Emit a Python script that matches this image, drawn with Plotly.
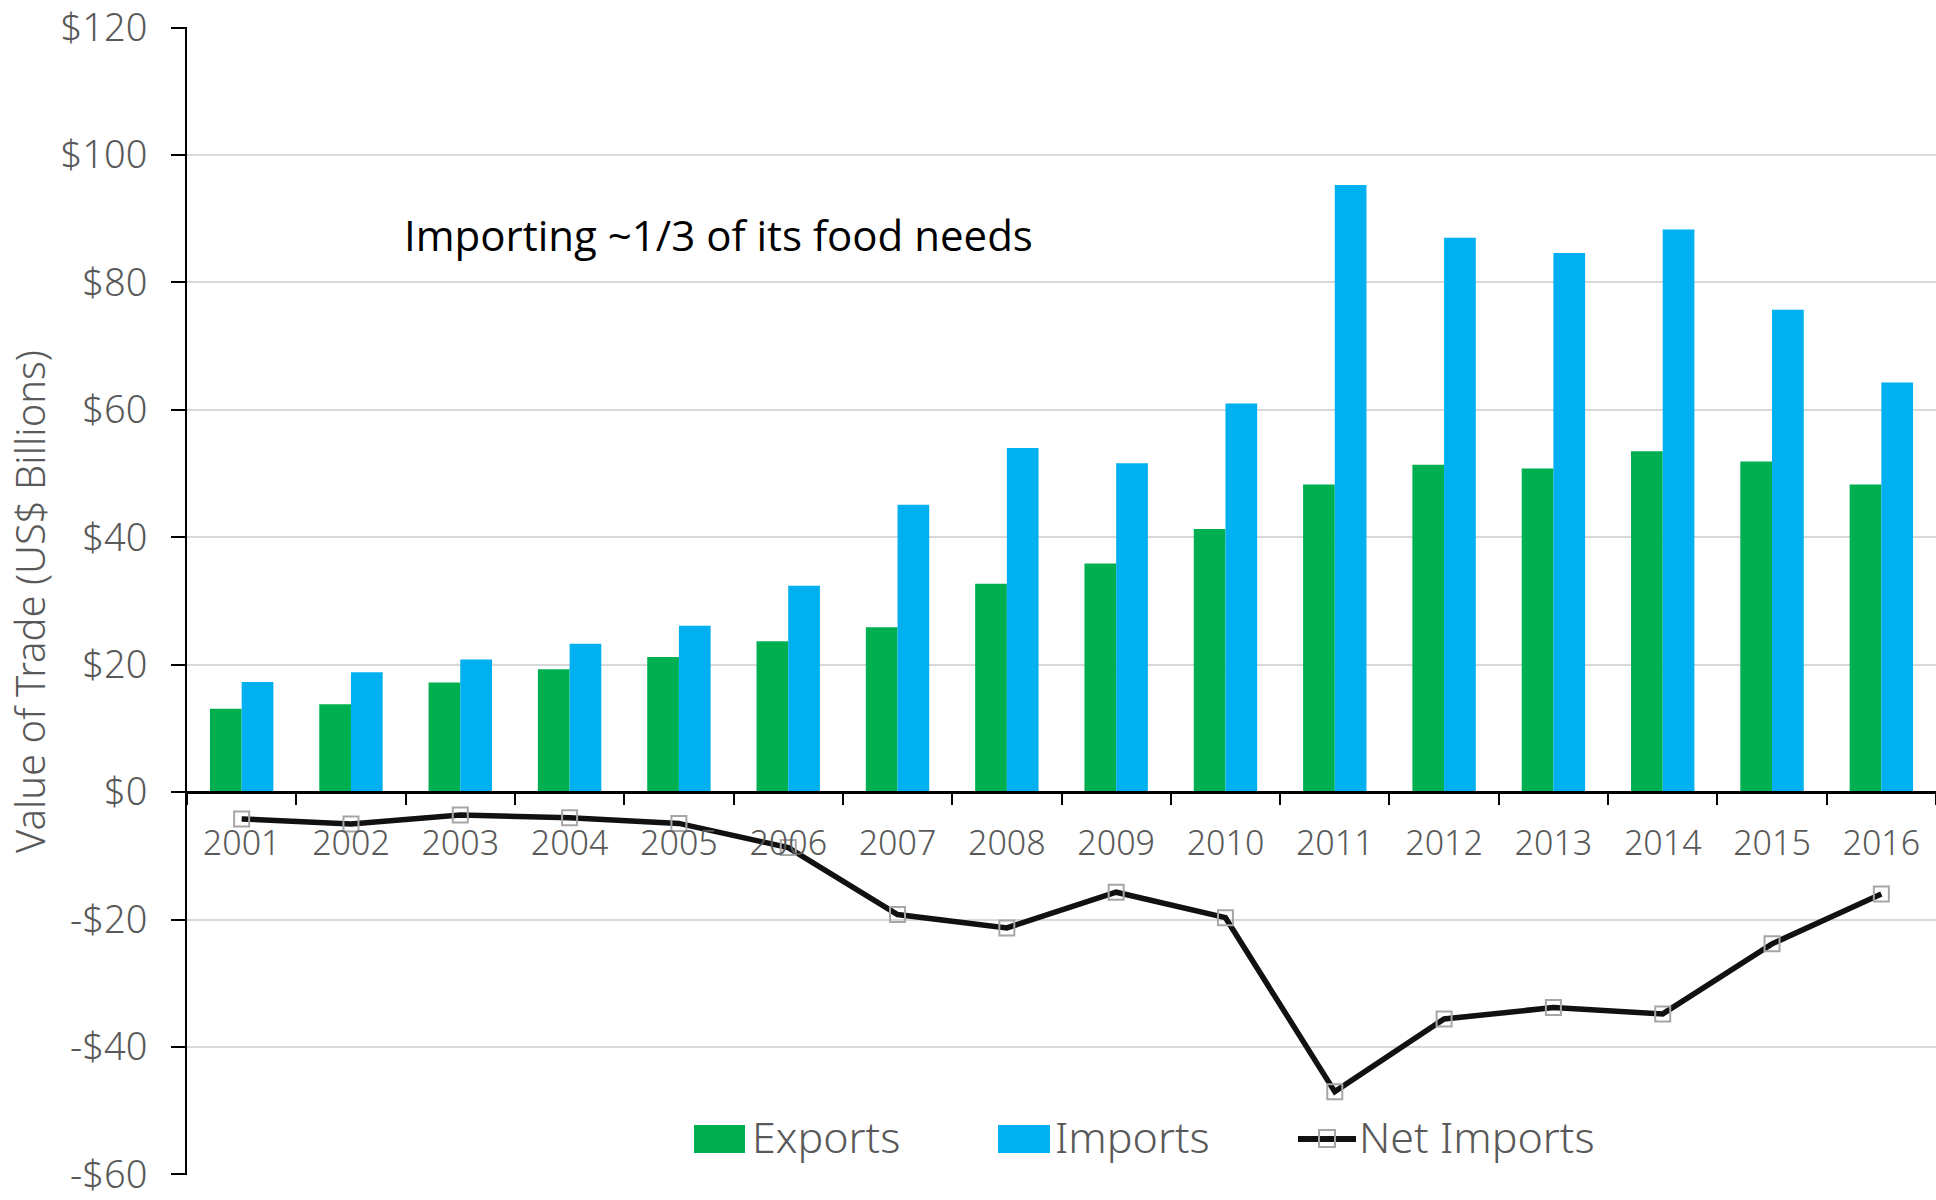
import plotly.graph_objects as go

years = ["2001", "2002", "2003", "2004", "2005", "2006", "2007", "2008",
         "2009", "2010", "2011", "2012", "2013", "2014", "2015", "2016"]
exports = [13.1, 13.8, 17.2, 19.3, 21.2, 23.7, 25.9, 32.7,
           35.9, 41.3, 48.3, 51.4, 50.8, 53.5, 51.9, 48.3]
imports = [17.3, 18.8, 20.8, 23.3, 26.1, 32.4, 45.1, 54.0,
           51.6, 61.0, 95.3, 87.0, 84.6, 88.3, 75.7, 64.3]
net_imports = [-4.2, -5.0, -3.6, -4.0, -4.9, -8.7, -19.2, -21.3,
               -15.7, -19.7, -47.0, -35.6, -33.8, -34.8, -23.8, -16.0]
y_ticks = [-60, -40, -20, 0, 20, 40, 60, 80, 100, 120]
y_tick_text = ["-$60", "-$40", "-$20", "$0", "$20", "$40", "$60", "$80", "$100", "$120"]

W, H = 1936, 1200
ML, MR, MT, MB = 187, 0, 27, 25
PW, PH = W - ML - MR, H - MT - MB

def px(x):
    return (x - ML) / PW

def py(y):
    return (H - MB - y) / PH

FONT = "Noto Sans, sans-serif"
GRAY = "#595959"
GREEN = "#00B050"
BLUE = "#00B0F0"

fig = go.Figure()
fig.add_trace(go.Bar(x=years, y=exports, name="Exports", marker_color=GREEN,
                     marker_line_width=0, showlegend=False))
fig.add_trace(go.Bar(x=years, y=imports, name="Imports", marker_color=BLUE,
                     marker_line_width=0, showlegend=False))
fig.add_trace(go.Scatter(x=years, y=net_imports, name="Net Imports", mode="lines+markers",
                         line=dict(color="#111111", width=5.5),
                         marker=dict(symbol="square", size=15, color="rgba(0,0,0,0)",
                                     line=dict(color="#a6a6a6", width=2)),
                         showlegend=False))

shapes = [
    dict(type="rect", xref="paper", yref="paper", x0=px(694), x1=px(745), y0=py(1153), y1=py(1125),
         fillcolor=GREEN, line_width=0),
    dict(type="rect", xref="paper", yref="paper", x0=px(998), x1=px(1050), y0=py(1153), y1=py(1125),
         fillcolor=BLUE, line_width=0),
    dict(type="line", xref="paper", yref="paper", x0=px(1298), x1=px(1356), y0=py(1139), y1=py(1139),
         line=dict(color="#111111", width=6)),
    dict(type="rect", xref="paper", yref="paper", x0=px(1319), x1=px(1335), y0=py(1147), y1=py(1130),
         fillcolor="rgba(0,0,0,0)", line=dict(color="#a6a6a6", width=2)),
]
legend_font = dict(family=FONT, size=43, color=GRAY, weight=300)
annotations = [
    dict(text="Exports", xref="paper", yref="paper", x=px(750), y=py(1136), xanchor="left",
         yanchor="middle", showarrow=False, font=legend_font),
    dict(text="Imports", xref="paper", yref="paper", x=px(1053), y=py(1136), xanchor="left",
         yanchor="middle", showarrow=False, font=legend_font),
    dict(text="Net Imports", xref="paper", yref="paper", x=px(1357), y=py(1136), xanchor="left",
         yanchor="middle", showarrow=False, font=legend_font),
    dict(text="Importing ~1/3 of its food needs", xref="paper", yref="paper", x=px(402), y=py(234),
         xanchor="left", yanchor="middle", showarrow=False,
         font=dict(family="Open Sans, sans-serif", size=42, color="#000000")),
    dict(text="Value of Trade (US$ Billions)", xref="paper", yref="paper", x=px(30), y=py(602),
         xanchor="center", yanchor="middle", textangle=-90, showarrow=False,
         font=dict(family=FONT, size=40, color=GRAY, weight=300)),
]

fig.update_layout(
    width=W, height=H,
    margin=dict(l=ML, r=MR, t=MT, b=MB, autoexpand=False),
    paper_bgcolor="white", plot_bgcolor="white",
    barmode="group", bargap=0.42, bargroupgap=0,
    shapes=shapes, annotations=annotations,
    showlegend=False,
    xaxis=dict(type="category", anchor="free", position=1/3, range=[-0.5, 15.5], autorange=False,
               showline=True, linecolor="black", linewidth=2.5,
               ticks="outside", tickson="boundaries", ticklen=11, tickwidth=2, tickcolor="black",
               showgrid=False, tickfont=dict(family=FONT, size=34, color=GRAY, weight=300),
               ticklabelstandoff=20, ticklabeloverflow="allow"),
    yaxis=dict(range=[-60.08, 120.08], autorange=False, tickvals=y_ticks, ticktext=y_tick_text,
               showline=True, linecolor="black", linewidth=2,
               ticks="outside", ticklen=14, tickwidth=2, tickcolor="black",
               showgrid=True, gridcolor="#d9d9d9", gridwidth=1.5, zeroline=False,
               tickfont=dict(family=FONT, size=38, color=GRAY, weight=300),
               ticklabelstandoff=16, ticklabeloverflow="allow"),
)

fig.write_html("out.html")
